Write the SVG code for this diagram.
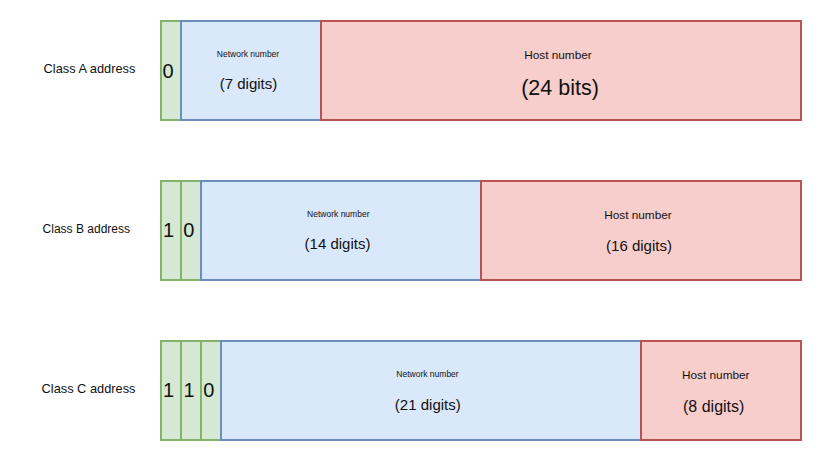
<svg xmlns="http://www.w3.org/2000/svg" width="822" height="464" viewBox="0 0 822 464">
<style>
text { font-family: "Liberation Sans", Arial, sans-serif; fill: #111; }
.g { fill: #d5e8d4; stroke: #82b366; stroke-width: 2; }
.b { fill: #dae8fc; stroke: #6c8ebf; stroke-width: 2; }
.r { fill: #f8cecc; stroke: #b85450; stroke-width: 2; }
.bit { font-size: 20px; }
.lbl { font-size: 12.8px; text-anchor: middle; }
.nn { font-size: 8.5px; text-anchor: middle; }
.hn { font-size: 11.8px; text-anchor: middle; }
.sz { font-size: 15px; text-anchor: middle; }
</style>
<rect width="822" height="464" fill="#ffffff"/>
<g id="labels">
  <text class="lbl" x="89.5" y="73.3">Class A address</text>
  <text class="lbl" x="86.3" y="233" style="font-size:12px">Class B address</text>
  <text class="lbl" x="88.5" y="393">Class C address</text>
</g>
<g id="classA">
  <g id="a-bit0"><rect class="g" x="161" y="21" width="20" height="99"/><text class="bit" x="162.5" y="78">0</text></g>
  <g id="a-net"><rect class="b" x="181" y="21" width="140" height="99"/>
    <text class="nn" x="248" y="56.5">Network number</text>
    <text class="sz" x="248.5" y="88.6">(7 digits)</text></g>
  <g id="a-host"><rect class="r" x="321" y="21" width="480" height="99"/>
    <text class="hn" x="558" y="59">Host number</text>
    <text class="sz" x="560" y="94.5" style="font-size:21.5px">(24 bits)</text></g>
</g>
<g id="classB">
  <g id="b-bit1"><rect class="g" x="161" y="181" width="20" height="99"/><text class="bit" x="163" y="237">1</text></g>
  <g id="b-bit0"><rect class="g" x="181" y="181" width="20" height="99"/><text class="bit" x="183.3" y="237">0</text></g>
  <g id="b-net"><rect class="b" x="201" y="181" width="280" height="99"/>
    <text class="nn" x="338.3" y="217">Network number</text>
    <text class="sz" x="337.5" y="249">(14 digits)</text></g>
  <g id="b-host"><rect class="r" x="481" y="181" width="320" height="99"/>
    <text class="hn" x="638" y="219">Host number</text>
    <text class="sz" x="639" y="251">(16 digits)</text></g>
</g>
<g id="classC">
  <g id="c-bit1a"><rect class="g" x="161" y="341" width="20" height="99"/><text class="bit" x="163" y="397">1</text></g>
  <g id="c-bit1b"><rect class="g" x="181" y="341" width="20" height="99"/><text class="bit" x="183.5" y="397">1</text></g>
  <g id="c-bit0"><rect class="g" x="201" y="341" width="20" height="99"/><text class="bit" x="203.3" y="397">0</text></g>
  <g id="c-net"><rect class="b" x="221" y="341" width="420" height="99"/>
    <text class="nn" x="427.5" y="377">Network number</text>
    <text class="sz" x="427.8" y="409.5">(21 digits)</text></g>
  <g id="c-host"><rect class="r" x="641" y="341" width="160" height="99"/>
    <text class="hn" x="715.8" y="379">Host number</text>
    <text class="sz" x="713.7" y="411.5" style="font-size:16px">(8 digits)</text></g>
</g>
<g id="connectors"/>
</svg>
